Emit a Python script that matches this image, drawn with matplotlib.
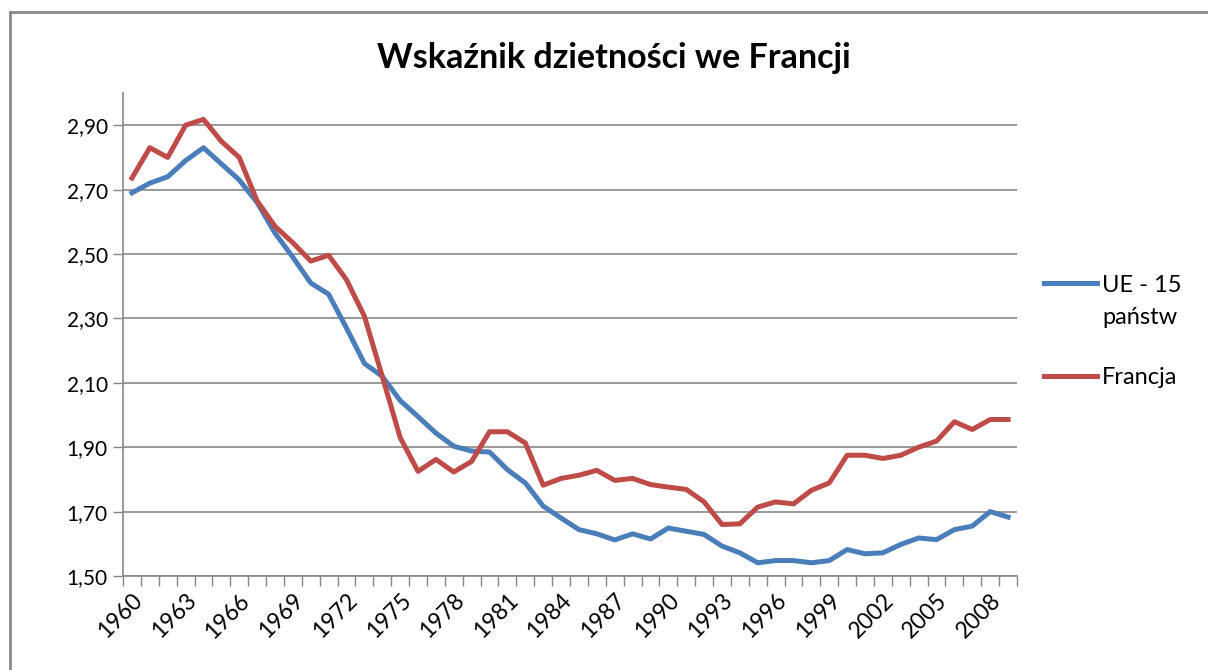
import numpy as np
import matplotlib
matplotlib.use("Agg")
from matplotlib import pyplot as plt
from matplotlib.lines import Line2D

plt.rcParams['font.family'] = ['Lato', 'DejaVu Sans']

# data
years = list(range(1960, 2010))
ue15 = [2.69, 2.72, 2.74, 2.79, 2.83, 2.78, 2.73, 2.66, 2.565, 2.49,
        2.41, 2.375, 2.27, 2.16, 2.12, 2.045, 1.995, 1.944, 1.903, 1.888,
        1.885, 1.83, 1.789, 1.717, 1.68, 1.644, 1.631, 1.612, 1.631, 1.615,
        1.649, 1.639, 1.629, 1.593, 1.572, 1.541, 1.548, 1.548, 1.541, 1.548,
        1.582, 1.569, 1.572, 1.598, 1.618, 1.613, 1.644, 1.655, 1.70, 1.683]
francja = [2.736, 2.83, 2.80, 2.90, 2.918, 2.85, 2.80, 2.665, 2.586, 2.535,
           2.478, 2.496, 2.42, 2.307, 2.12, 1.93, 1.825, 1.862, 1.823, 1.856,
           1.948, 1.948, 1.913, 1.782, 1.803, 1.813, 1.828, 1.797, 1.803, 1.784,
           1.776, 1.769, 1.73, 1.66, 1.662, 1.714, 1.73, 1.724, 1.766, 1.789,
           1.875, 1.875, 1.865, 1.875, 1.90, 1.919, 1.979, 1.955, 1.986, 1.986]
labels = [["UE - 15", "państw"], ["Francja"]]
colors = ["#4A7EBB", "#BE4B48"]
title = "Wskaźnik dzietności we Francji"

W, H = 1208, 670
fig = plt.figure(figsize=(W / 100, H / 100), dpi=100)
ax = fig.add_axes([123 / W, 1 - 576 / H, (1017 - 123) / W, (576 - 93) / H])

x = np.arange(len(years))
ax.plot(x, ue15, color=colors[0], lw=3.6, solid_joinstyle='round', zorder=3)
ax.plot(x, francja, color=colors[1], lw=3.6, solid_joinstyle='round', zorder=3)

ax.set_xlim(-0.5, len(years) - 0.5)
ax.set_ylim(1.5, 3.0)

gray = "#878787"
yt = np.arange(1.5, 2.95, 0.2)
ax.set_yticks(yt)
ax.set_yticklabels([f"{v:.2f}".replace(".", ",") for v in yt])
ax.yaxis.grid(True, color=gray, lw=1.2)
ax.set_axisbelow(True)

ax.set_xticks(np.arange(-0.5, len(years), 1))
ax.set_xticklabels([])
ax.set_xticks(x[::3], minor=True)
ax.set_xticklabels([str(y) for y in years[::3]], minor=True,
                   rotation=45, ha='right', va='top', rotation_mode='anchor')

ax.tick_params(axis='x', which='major', length=7, width=1, color=gray, direction='out')
ax.tick_params(axis='x', which='minor', length=0, pad=10, labelsize=16.5)
ax.tick_params(axis='y', length=7, width=1, color=gray, direction='out', pad=4, labelsize=15)

for s in ['top', 'right']:
    ax.spines[s].set_visible(False)
for s in ['left', 'bottom']:
    ax.spines[s].set_color(gray)
    ax.spines[s].set_linewidth(1.2)

fig.text(614 / W, 1 - 58 / H, title, ha='center', va='center',
         fontsize=24.5, fontweight='bold')

# legend drawn by hand to keep Excel layout
leg_y = [283, 376]
for c, lab, yy in zip(colors, labels, leg_y):
    fig.add_artist(Line2D([1044 / W, 1097 / W], [1 - yy / H, 1 - yy / H],
                          color=c, lw=3.6, transform=fig.transFigure))
    for k, line in enumerate(lab):
        fig.text(1102 / W, 1 - (yy + 33 * k) / H, line, ha='left',
                 va='center_baseline', fontsize=17)

# outer chart border (top and left visible)
fig.add_artist(Line2D([10 / W, 1], [1 - 12 / H, 1 - 12 / H], color="#8a8a8a",
                      lw=2, transform=fig.transFigure))
fig.add_artist(Line2D([10 / W, 10 / W], [0, 1 - 12 / H], color="#8a8a8a",
                      lw=2, transform=fig.transFigure))

fig.savefig("out.png", dpi=100)
